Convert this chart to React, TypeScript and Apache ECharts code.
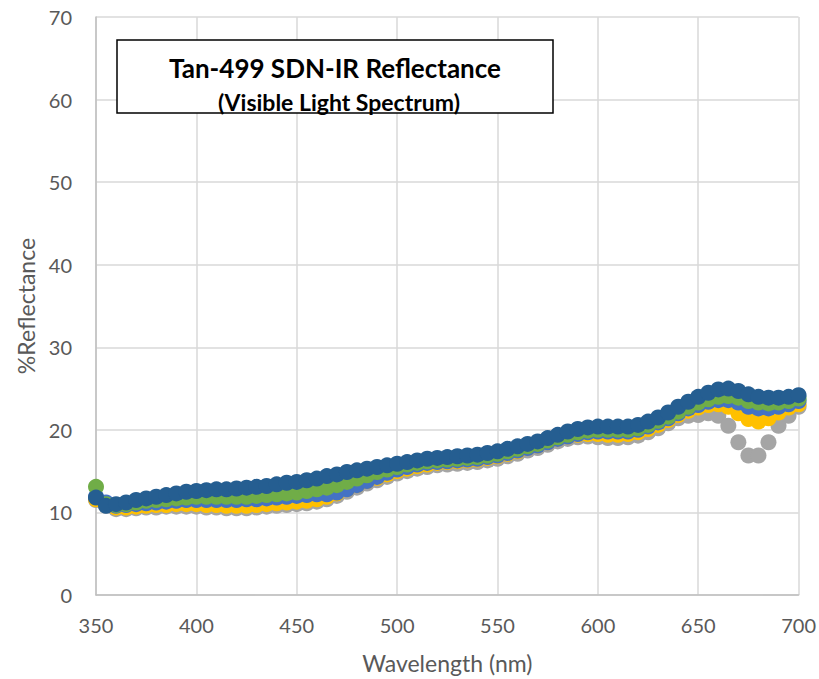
import React, { useEffect, useRef } from "react";
import * as echarts from "echarts";

const wavelengths: number[] = [];
for (let w = 350; w <= 700; w += 5) wavelengths.push(w);

const darkBlue = [11.8, 10.8, 11.0, 11.2, 11.5, 11.7, 11.9, 12.1, 12.3, 12.5, 12.6, 12.7, 12.8, 12.8, 12.9, 13.0, 13.1, 13.2, 13.4, 13.6, 13.7, 13.9, 14.1, 14.4, 14.6, 14.9, 15.1, 15.3, 15.5, 15.7, 15.9, 16.1, 16.3, 16.5, 16.6, 16.7, 16.8, 16.9, 17.0, 17.2, 17.4, 17.7, 18.0, 18.3, 18.6, 19.0, 19.4, 19.8, 20.1, 20.3, 20.4, 20.4, 20.4, 20.4, 20.6, 21.0, 21.5, 22.1, 22.8, 23.4, 24.0, 24.5, 24.9, 25.0, 24.7, 24.3, 24.0, 23.9, 23.9, 24.0, 24.2];
const green = [13.1, 11.0, 10.9, 11.0, 11.2, 11.4, 11.5, 11.6, 11.7, 11.8, 11.9, 11.9, 11.9, 11.9, 11.9, 11.9, 12.0, 12.1, 12.2, 12.3, 12.4, 12.6, 12.8, 13.0, 13.3, 13.7, 14.1, 14.5, 14.9, 15.2, 15.5, 15.8, 16.0, 16.2, 16.3, 16.4, 16.5, 16.6, 16.7, 16.9, 17.1, 17.4, 17.7, 18.0, 18.3, 18.7, 19.1, 19.4, 19.7, 19.9, 20.0, 20.0, 20.0, 20.0, 20.2, 20.6, 21.1, 21.6, 22.2, 22.8, 23.3, 23.7, 24.0, 24.1, 23.9, 23.5, 23.3, 23.2, 23.3, 23.5, 23.8];
const lightBlue = [11.9, 11.2, 10.8, 10.9, 11.0, 11.1, 11.2, 11.3, 11.4, 11.5, 11.5, 11.5, 11.5, 11.5, 11.5, 11.6, 11.6, 11.7, 11.8, 11.9, 12.0, 12.1, 12.2, 12.2, 12.4, 12.8, 13.3, 13.8, 14.3, 14.8, 15.2, 15.5, 15.8, 16.0, 16.1, 16.2, 16.3, 16.4, 16.5, 16.7, 16.9, 17.2, 17.5, 17.8, 18.1, 18.5, 18.9, 19.2, 19.5, 19.7, 19.8, 19.8, 19.8, 19.8, 20.0, 20.4, 20.9, 21.4, 22.0, 22.6, 23.0, 23.4, 23.6, 23.6, 23.3, 22.8, 22.6, 22.6, 22.8, 23.1, 23.5];
const yellow = [11.6, 11.0, 10.6, 10.6, 10.7, 10.8, 10.9, 10.9, 11.0, 11.0, 11.0, 10.9, 10.9, 10.8, 10.8, 10.8, 10.9, 11.0, 11.1, 11.2, 11.3, 11.4, 11.6, 11.9, 12.3, 12.8, 13.3, 13.8, 14.2, 14.6, 15.0, 15.3, 15.6, 15.8, 16.0, 16.1, 16.2, 16.3, 16.4, 16.6, 16.8, 17.1, 17.4, 17.8, 18.1, 18.5, 18.9, 19.2, 19.4, 19.5, 19.5, 19.4, 19.4, 19.5, 19.7, 20.1, 20.6, 21.2, 21.8, 22.3, 22.7, 23.0, 23.1, 22.8, 22.0, 21.3, 21.0, 21.4, 22.1, 22.7, 23.1];
const gray = [11.5, 10.8, 10.4, 10.4, 10.5, 10.6, 10.6, 10.7, 10.7, 10.7, 10.7, 10.6, 10.6, 10.5, 10.5, 10.5, 10.6, 10.7, 10.8, 10.9, 11.0, 11.1, 11.3, 11.6, 12.0, 12.5, 13.0, 13.5, 13.9, 14.3, 14.7, 15.0, 15.3, 15.5, 15.7, 15.8, 15.9, 16.0, 16.1, 16.3, 16.5, 16.8, 17.1, 17.5, 17.8, 18.2, 18.6, 18.9, 19.1, 19.2, 19.1, 19.0, 19.0, 19.1, 19.3, 19.7, 20.2, 20.8, 21.4, 21.7, 21.8, 22.0, 21.7, 20.5, 18.5, 16.9, 16.9, 18.5, 20.5, 21.7, 22.8];

const xTicks = [350, 400, 450, 500, 550, 600, 650, 700];

const seriesDefs = [
  { name: "Gray", values: gray, color: "#A5A5A5" },
  { name: "Yellow", values: yellow, color: "#FFC000" },
  { name: "Blue", values: lightBlue, color: "#4472C4" },
  { name: "Green", values: green, color: "#70AD47" },
  { name: "Dark Blue", values: darkBlue, color: "#255E91" },
];

export default function App() {
  const ref = useRef<HTMLDivElement>(null);
  useEffect(() => {
    if (!ref.current) return;
    const chart = echarts.init(ref.current, null, { renderer: "svg" });
    const font = "Lato, 'Open Sans', sans-serif";
    chart.setOption({
      animation: false,
      backgroundColor: "#fff",
      grid: { left: 96, right: 18, top: 17, bottom: 83 },
      xAxis: {
        type: "value",
        min: xTicks[0],
        max: xTicks[xTicks.length - 1],
        interval: 50,
        name: "Wavelength (nm)",
        nameLocation: "middle",
        nameGap: 56,
        nameTextStyle: { fontSize: 23, color: "#595959", fontFamily: font },
        axisLine: { show: true, lineStyle: { color: "#BFBFBF", width: 1.5 } },
        axisTick: { show: false },
        axisLabel: { fontSize: 20, color: "#595959", fontFamily: font, margin: 20 },
        splitLine: { show: true, lineStyle: { color: "#D9D9D9", width: 1.5 } },
      },
      yAxis: {
        type: "value",
        min: 0,
        max: 70,
        interval: 10,
        name: "%Reflectance",
        nameLocation: "middle",
        nameGap: 58,
        nameTextStyle: { fontSize: 23, color: "#595959", fontFamily: font },
        axisLine: { show: true, lineStyle: { color: "#BFBFBF", width: 1.5 } },
        axisTick: { show: false },
        axisLabel: { fontSize: 20, color: "#595959", fontFamily: font, margin: 24 },
        splitLine: { show: true, lineStyle: { color: "#D9D9D9", width: 1.5 } },
      },
      series: seriesDefs.map((s) => ({
        name: s.name,
        type: "scatter",
        symbol: "circle",
        symbolSize: 16,
        itemStyle: { color: s.color, opacity: 1 },
        data: wavelengths.map((w, i) => [w, s.values[i]]),
      })),
      graphic: [
        {
          type: "rect",
          shape: { x: 117, y: 40, width: 436, height: 73 },
          style: { fill: "#fff", stroke: "#000", lineWidth: 1.5 },
          z: 10,
        },
        {
          type: "text",
          x: 335,
          y: 68,
          style: {
            text: "Tan-499 SDN-IR Reflectance",
            fontSize: 26,
            fontWeight: "bold",
            fontFamily: font,
            fill: "#000",
            align: "center",
            verticalAlign: "middle",
          },
          z: 11,
        },
        {
          type: "text",
          x: 339,
          y: 102,
          style: {
            text: "(Visible Light Spectrum)",
            fontSize: 23,
            fontWeight: "bold",
            fontFamily: font,
            fill: "#000",
            align: "center",
            verticalAlign: "middle",
          },
          z: 11,
        },
      ],
    });
    return () => chart.dispose();
  }, []);
  return <div ref={ref} style={{ width: 819, height: 679, position: "absolute", left: 0, top: 0 }} />;
}
